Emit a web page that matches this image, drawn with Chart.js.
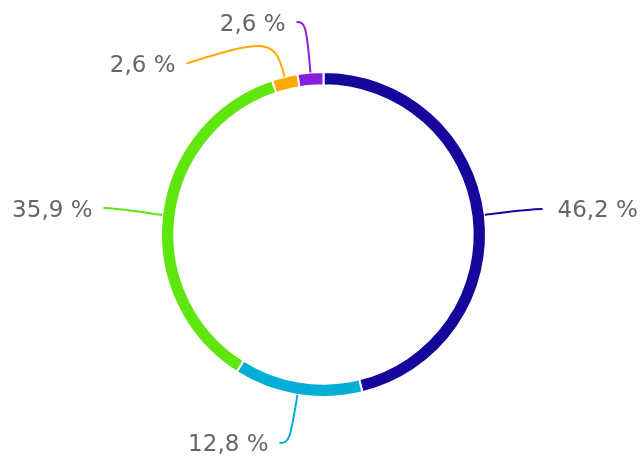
<!DOCTYPE html>
<html>
<head>
<meta charset="utf-8">
<script src="https://cdn.jsdelivr.net/npm/chart.js@4"></script>
<style>
html,body{margin:0;padding:0;background:#fff;}
#wrap{width:644px;height:459px;}
</style>
</head>
<body>
<div id="wrap"><canvas id="c" width="644" height="459"></canvas></div>
<script>
// Data
const categories = ['A', 'B', 'C', 'D', 'E'];
const values = [18, 5, 14, 1, 1];
const percentLabels = ['46,2 %', '12,8 %', '35,9 %', '2,6 %', '2,6 %'];
const colors = ['#15079b', '#00aed6', '#5fe60e', '#ffaa00', '#8a1fdb'];

// Label layout (relative to chart centre): end point of leader, radial length, second control offset, side
const labelLayout = [
  {dx: 219, dy: -25.5, l1: 15, c2x: -15, c2y: 0, side: 'right', ty: 2},
  {dx: -44, dy: 208.5, l1: 45, c2x: 10, c2y: 0, side: 'left', ty: 2},
  {dx: -220, dy: -26.5, l1: 15, c2x: 15, c2y: 0, side: 'left', ty: 3},
  {dx: -137, dy: -171, l1: 40, c2x: 80, c2y: -25, side: 'left', ty: 3},
  {dx: -27, dy: -212.5, l1: 50, c2x: 8, c2y: 0, side: 'left', ty: 3}
];

const leaderPlugin = {
  id: 'leaders',
  afterDatasetsDraw(chart) {
    const ctx = chart.ctx;
    const meta = chart.getDatasetMeta(0);
    meta.data.forEach((arc, i) => {
      const p = arc.getProps(['x', 'y', 'startAngle', 'endAngle', 'outerRadius'], true);
      const mid = (p.startAngle + p.endAngle) / 2;
      const ux = Math.cos(mid), uy = Math.sin(mid);
      const sx = p.x + ux * p.outerRadius, sy = p.y + uy * p.outerRadius;
      const L = labelLayout[i];
      const ex = p.x + L.dx, ey = p.y + L.dy;
      ctx.save();
      ctx.strokeStyle = colors[i];
      ctx.lineWidth = 2;
      ctx.beginPath();
      ctx.moveTo(sx, sy);
      ctx.bezierCurveTo(sx + ux * L.l1, sy + uy * L.l1, ex + L.c2x, ey + L.c2y, ex, ey);
      ctx.stroke();
      ctx.fillStyle = '#666666';
      ctx.font = '23px "DejaVu Sans", Verdana, sans-serif';
      ctx.textBaseline = 'middle';
      if (L.side === 'right') {
        ctx.textAlign = 'left';
        ctx.fillText(percentLabels[i], ex + 15, ey + L.ty);
      } else {
        ctx.textAlign = 'right';
        ctx.fillText(percentLabels[i], ex - 11, ey + L.ty);
      }
      ctx.restore();
    });
  }
};

new Chart(document.getElementById('c'), {
  type: 'doughnut',
  data: {
    labels: categories,
    datasets: [{
      data: values,
      backgroundColor: colors,
      borderColor: '#ffffff',
      borderWidth: 2,
      hoverOffset: 0
    }]
  },
  options: {
    responsive: false,
    animation: false,
    cutout: '91.8%',
    layout: {padding: {top: 71, bottom: 61, left: 3, right: 0}},
    plugins: {legend: {display: false}, tooltip: {enabled: false}}
  },
  plugins: [leaderPlugin]
});
</script>
</body>
</html>
